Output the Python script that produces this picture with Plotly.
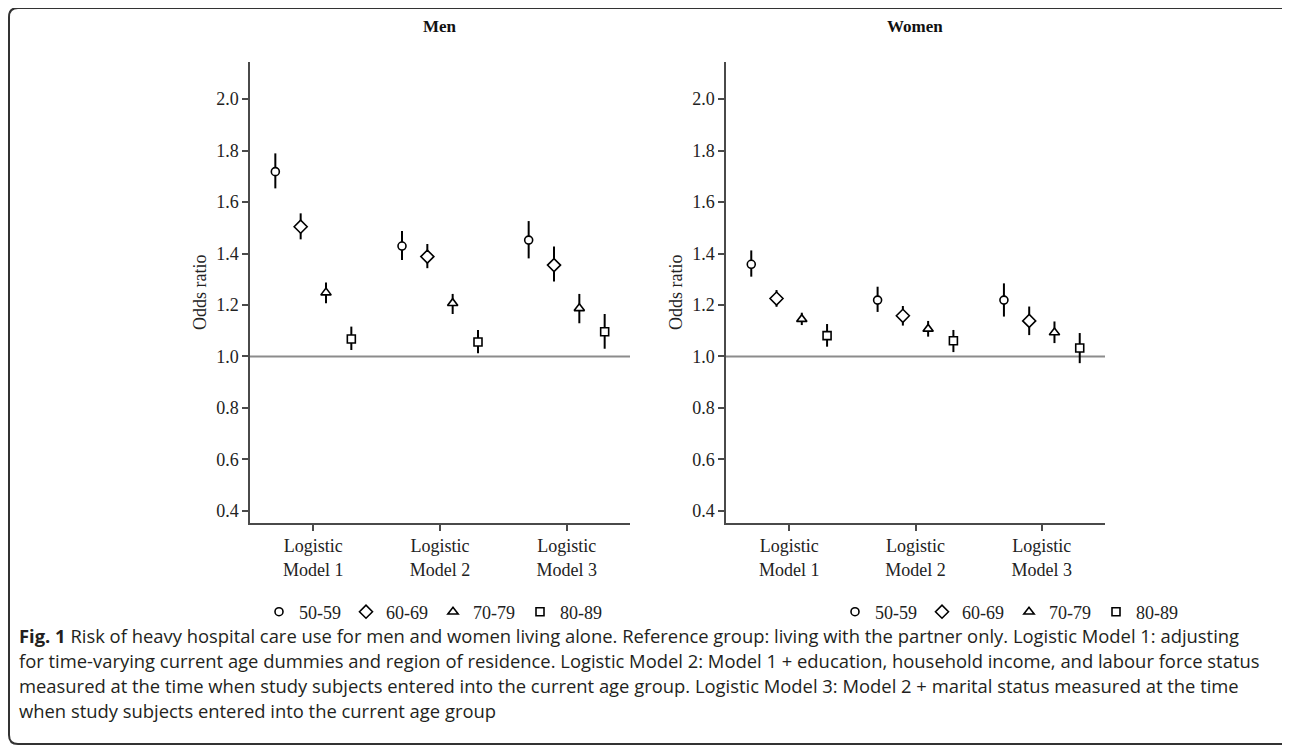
import plotly.graph_objects as go

W, H = 1290, 745
OFF = 8  # browser body margin

models = ["Logistic<br>Model 1", "Logistic<br>Model 2", "Logistic<br>Model 3"]
age_groups = ["50-59", "60-69", "70-79", "80-89"]
symbols = ["circle", "diamond", "triangle-up", "square"]
sizes = [8, 10, 9, 8]

# Men: odds ratio estimates and 95% CI (per model)
men_est_5059 = [1.718, 1.429, 1.452]
men_lo_5059 = [1.653, 1.375, 1.381]
men_hi_5059 = [1.789, 1.487, 1.526]
men_est_6069 = [1.504, 1.388, 1.355]
men_lo_6069 = [1.455, 1.343, 1.291]
men_hi_6069 = [1.556, 1.437, 1.427]
men_est_7079 = [1.248, 1.207, 1.187]
men_lo_7079 = [1.207, 1.165, 1.129]
men_hi_7079 = [1.287, 1.243, 1.243]
men_est_8089 = [1.068, 1.056, 1.096]
men_lo_8089 = [1.025, 1.012, 1.030]
men_hi_8089 = [1.116, 1.103, 1.165]

# Women
women_est_5059 = [1.358, 1.219, 1.219]
women_lo_5059 = [1.310, 1.173, 1.155]
women_hi_5059 = [1.412, 1.271, 1.284]
women_est_6069 = [1.225, 1.158, 1.138]
women_lo_6069 = [1.193, 1.120, 1.083]
women_hi_6069 = [1.258, 1.196, 1.194]
women_est_7079 = [1.145, 1.107, 1.093]
women_lo_7079 = [1.122, 1.077, 1.052]
women_hi_7079 = [1.170, 1.138, 1.136]
women_est_8089 = [1.081, 1.061, 1.033]
women_lo_8089 = [1.038, 1.017, 0.974]
women_hi_8089 = [1.126, 1.103, 1.091]

y_ticks = [0.4, 0.6, 0.8, 1.0, 1.2, 1.4, 1.6, 1.8, 2.0]

caption_lines = [
    "<b>Fig. 1</b> Risk of heavy hospital care use for men and women living alone. Reference group: living with the partner only. Logistic Model 1: adjusting",
    "for time-varying current age dummies and region of residence. Logistic Model 2: Model 1 + education, household income, and labour force status",
    "measured at the time when study subjects entered into the current age group. Logistic Model 3: Model 2 + marital status measured at the time",
    "when study subjects entered into the current age group",
]

men = [
    (men_est_5059, men_lo_5059, men_hi_5059),
    (men_est_6069, men_lo_6069, men_hi_6069),
    (men_est_7079, men_lo_7079, men_hi_7079),
    (men_est_8089, men_lo_8089, men_hi_8089),
]
women = [
    (women_est_5059, women_lo_5059, women_hi_5059),
    (women_est_6069, women_lo_6069, women_hi_6069),
    (women_est_7079, women_lo_7079, women_hi_7079),
    (women_est_8089, women_lo_8089, women_hi_8089),
]

offsets = [-0.3, -0.1, 0.1, 0.3]
SERIF = "Liberation Serif"
AX = "#4a4a4a"


def px(x):
    return (x - OFF) / W


def py(y):
    return 1 - (y - OFF) / H


fig = go.Figure()


def add_panel(data, xa, ya, legend_name):
    for i, (est, lo, hi) in enumerate(data):
        xs = [m + 1 + offsets[i] for m in range(len(est))]
        fig.add_trace(go.Scatter(
            x=xs, y=est, mode="markers", name=age_groups[i],
            xaxis=xa, yaxis=ya, legend=legend_name,
            marker=dict(symbol=symbols[i], size=sizes[i], color="white",
                        line=dict(color="black", width=1.6)),
            error_y=dict(type="data", symmetric=False,
                         array=[h - e for h, e in zip(hi, est)],
                         arrayminus=[e - l for e, l in zip(est, lo)],
                         width=0, thickness=2, color="black"),
        ))


add_panel(men, "x", "y", "legend")
add_panel(women, "x2", "y2", "legend2")

ydom = [py(523), py(62)]
xaxis_common = dict(
    range=[0.5, 3.5], tickmode="array", tickvals=[1, 2, 3], ticktext=models,
    showline=True, linecolor=AX, linewidth=1.5, ticks="outside", ticklen=6,
    tickwidth=1.5, tickcolor=AX, showgrid=False, zeroline=False,
    tickfont=dict(family=SERIF, size=18, color="#222"), fixedrange=True,
)
yaxis_common = dict(
    range=[0.353, 2.144], tickmode="array", tickvals=y_ticks,
    ticktext=[f"{v:.1f}" for v in y_ticks],
    showline=True, linecolor=AX, linewidth=1.5, ticks="outside", ticklen=6,
    tickwidth=1.5, tickcolor=AX, showgrid=False, zeroline=False,
    tickfont=dict(family=SERIF, size=18, color="#222"), domain=ydom,
)

fig.update_layout(
    width=W, height=H, margin=dict(l=0, r=0, t=0, b=0),
    paper_bgcolor="white", plot_bgcolor="white",
    xaxis=dict(domain=[px(250), px(630)], anchor="y", **xaxis_common),
    yaxis=dict(anchor="x", **yaxis_common),
    xaxis2=dict(domain=[px(726), px(1105)], anchor="y2", **xaxis_common),
    yaxis2=dict(anchor="x2", **yaxis_common),
    legend=dict(orientation="h", x=px(259), y=py(612), xanchor="left",
                yanchor="middle", font=dict(family=SERIF, size=18, color="#222"),
                bgcolor="rgba(0,0,0,0)", itemclick=False),
    legend2=dict(orientation="h", x=px(835), y=py(612), xanchor="left",
                 yanchor="middle", font=dict(family=SERIF, size=18, color="#222"),
                 bgcolor="rgba(0,0,0,0)", itemclick=False),
    showlegend=True,
)

# reference line at OR = 1
for xr, yr in [("x domain", "y"), ("x2 domain", "y2")]:
    fig.add_shape(type="line", xref=xr, yref=yr, x0=0, x1=1, y0=1, y1=1,
                  line=dict(color="#8c8c8c", width=2), layer="below")

# panel titles and y-axis titles
for title, cx, ytx in [("Men", 440, 200), ("Women", 915, 676)]:
    fig.add_annotation(text=f"<b>{title}</b>", xref="paper", yref="paper",
                       x=px(cx), y=py(27), xanchor="center", yanchor="middle",
                       showarrow=False,
                       font=dict(family=SERIF, size=17, color="#111"))
    fig.add_annotation(text="Odds ratio", xref="paper", yref="paper",
                       x=px(ytx), y=py(292), xanchor="center", yanchor="middle",
                       showarrow=False, textangle=-90,
                       font=dict(family=SERIF, size=18, color="#222"))

# caption
for k, line in enumerate(caption_lines):
    fig.add_annotation(text=line, xref="paper", yref="paper",
                       x=px(17), y=py(635 + 25 * k), xanchor="left",
                       yanchor="middle", showarrow=False, align="left",
                       font=dict(family="Open Sans", size=18.4, color="#231f20"))

# rounded frame
r = 9
x0, y0, x1, y1 = 9, 8, 1300, 744
path = (f"M {px(x1)},{py(y0)} L {px(x0 + r)},{py(y0)} "
        f"Q {px(x0)},{py(y0)} {px(x0)},{py(y0 + r)} "
        f"L {px(x0)},{py(y1 - r)} Q {px(x0)},{py(y1)} {px(x0 + r)},{py(y1)} "
        f"L {px(x1)},{py(y1)}")
fig.add_shape(type="path", xref="paper", yref="paper", path=path,
              line=dict(color="#333", width=2))

fig.write_html("out.html")
